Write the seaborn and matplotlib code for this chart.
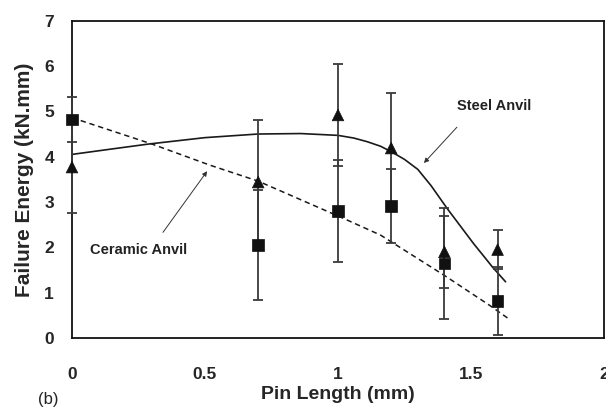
import matplotlib
matplotlib.use("Agg")
import matplotlib.pyplot as plt
import seaborn as sns
import pandas as pd

# Measured points
pin_length = [0.0, 0.7, 1.0, 1.2, 1.4, 1.6]
steel_energy = [3.77, 3.44, 4.92, 4.19, 1.90, 1.95]
steel_err = [1.02, 1.36, 1.12, 1.22, 0.80, 0.43]
ceramic_energy = [4.82, 2.05, 2.80, 2.91, 1.64, 0.81]
ceramic_err = [0.50, 1.22, 1.12, 0.81, 1.23, 0.75]

# Trend curves
steel_curve_x = [0.0, 0.15, 0.29, 0.5, 0.7, 0.86, 1.0, 1.06, 1.11, 1.16, 1.2, 1.25, 1.3, 1.35,
                 1.41, 1.46, 1.51, 1.55, 1.58, 1.63]
steel_curve_y = [4.05, 4.17, 4.28, 4.42, 4.50, 4.51, 4.47, 4.41, 4.33, 4.23, 4.11, 3.94, 3.72,
                 3.36, 2.86, 2.47, 2.08, 1.79, 1.57, 1.24]
ceramic_curve_x = [0.0, 0.3, 0.52, 0.7, 1.02, 1.16, 1.4, 1.57, 1.64]
ceramic_curve_y = [4.86, 4.28, 3.81, 3.46, 2.64, 2.27, 1.38, 0.72, 0.43]

xticks = [0, 0.5, 1, 1.5, 2]
xtick_labels = ["0", "0.5", "1", "1.5", "2"]
yticks = [0, 1, 2, 3, 4, 5, 6, 7]

sns.set_style("white")
plt.rcParams['font.family'] = ['Liberation Sans', 'DejaVu Sans']

fig = plt.figure(figsize=(6.06, 4.08), dpi=100)
ax = fig.add_axes([0.1188, 0.1716, 0.8779, 0.7777])

steel_df = pd.DataFrame({"x": steel_curve_x, "y": steel_curve_y})
ceramic_df = pd.DataFrame({"x": ceramic_curve_x, "y": ceramic_curve_y})
sns.lineplot(data=steel_df, x="x", y="y", ax=ax, color="#1a1a1a", lw=1.2,
             sort=False, estimator=None)
sns.lineplot(data=ceramic_df, x="x", y="y", ax=ax, color="#1a1a1a", lw=1.1,
             sort=False, estimator=None, linestyle=(0, (3.5, 2.5)))

for yv, ev in ((steel_energy, steel_err), (ceramic_energy, ceramic_err)):
    eb = ax.errorbar(pin_length, yv, yerr=ev, fmt="none",
                     ecolor="#3a3a3a", elinewidth=1.3, capsize=3.5, capthick=1.3, zorder=3)
    for art in eb.lines[1] + eb.lines[2]:
        art.set_clip_on(False)

pts = pd.DataFrame({"x": pin_length * 2,
                    "y": steel_energy + ceramic_energy,
                    "s": ["Steel"] * 6 + ["Ceramic"] * 6})
sns.scatterplot(data=pts, x="x", y="y", style="s", markers={"Steel": "^", "Ceramic": "s"},
                color="#111111", s=70, edgecolor="#111111", linewidth=0.5,
                ax=ax, legend=False, zorder=4, clip_on=False)

ax.set_xlim(0, 2)
ax.set_ylim(0, 7)
ax.set_xticks(xticks)
ax.set_xticklabels(xtick_labels)
ax.set_yticks(yticks)

for sp in ax.spines.values():
    sp.set_visible(True)
    sp.set_color("#111111")
    sp.set_linewidth(1.3)

ax.tick_params(axis="x", direction="out", length=7, width=1, color="#333333",
               pad=14, labelsize=12.5)
ax.tick_params(axis="y", direction="out", length=5, width=1, color="#333333",
               pad=8, labelsize=12.5)
for lab in ax.get_xticklabels() + ax.get_yticklabels():
    lab.set_fontweight("bold")

ax.set_xlabel("Pin Length (mm)", fontsize=14, fontweight="bold")
ax.set_ylabel("Failure Energy (kN.mm)", fontsize=15, fontweight="bold")
ax.xaxis.set_label_coords(0.5, -0.150)
ax.yaxis.set_label_coords(-0.071, 0.5)

ax.annotate("", xy=(1.323, 3.86), xytext=(1.447, 4.65),
            arrowprops=dict(arrowstyle="-|>", color="#333333", lw=0.7,
                            mutation_scale=7, shrinkA=0, shrinkB=0))
ax.annotate("", xy=(0.508, 3.68), xytext=(0.342, 2.33),
            arrowprops=dict(arrowstyle="-|>", color="#333333", lw=0.7,
                            mutation_scale=7, shrinkA=0, shrinkB=0))
ax.text(1.588, 5.11, "Steel Anvil", fontsize=10.5, fontweight="bold",
        ha="center", va="center", color="#222222")
ax.text(0.252, 1.94, "Ceramic Anvil", fontsize=10.5, fontweight="bold",
        ha="center", va="center", color="#222222")

fig.text(0.079, 0.02, "(b)", fontsize=12, ha="center", va="center", color="#222222")

fig.savefig("out.png", dpi=100)
